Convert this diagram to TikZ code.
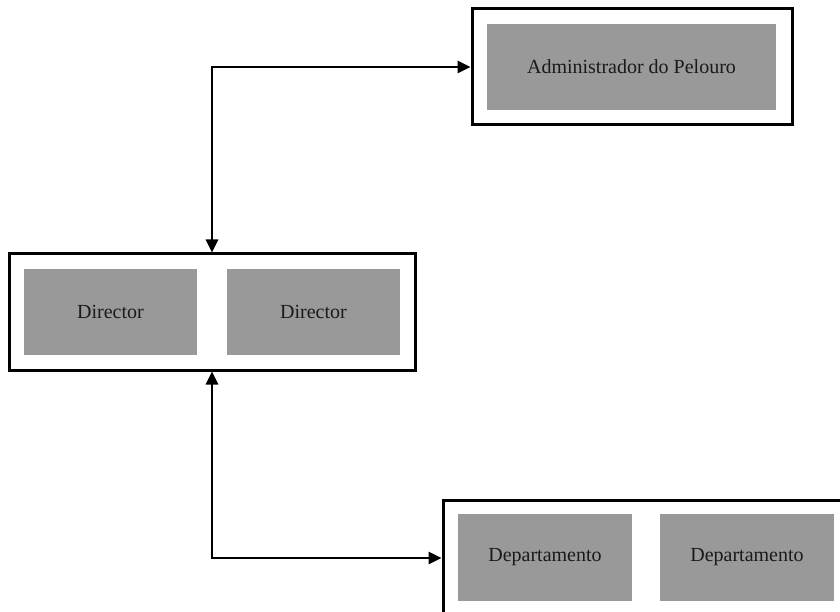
\documentclass[tikz,border=0pt]{standalone}
\usepackage{fontspec}
\setmainfont{Liberation Serif}
\usetikzlibrary{arrows.meta}
\definecolor{boxgray}{HTML}{999999}
\definecolor{inktext}{HTML}{1A1A1A}
\begin{document}
\begin{tikzpicture}[x=1pt,y=-1pt,
  frame/.style={draw=black,line width=3pt,fill=white,minimum width=#1,minimum height=116pt,inner sep=0pt},
  unit/.style={fill=boxgray,text=inktext,minimum width=#1,minimum height=86pt,inner sep=0pt,font=\fontsize{20}{23}\selectfont},
  link/.style={line width=2.6pt,{Triangle[length=13pt,width=12pt]}-{Triangle[length=13pt,width=12pt]}}]
\useasboundingbox (0,0) rectangle (840,612);
\clip (0,0) rectangle (840,612);
% outer frames
\node[frame=320pt] (admin) at (632,67) {};
\node[frame=406pt] (dir) at (212,312) {};
\node[frame=406pt] (dept) at (646,558) {};
% grey units
\node[unit=289pt] (adm) at (631.5,67) {Administrador do Pelouro};
\node[unit=173pt] (dirA) at (110.5,312) {Director};
\node[unit=173pt] (dirB) at (313.5,312) {Director};
\node[unit=174pt,minimum height=87pt] (depA) at (545,557.5) {Departamento};
\node[unit=174pt,minimum height=87pt] (depB) at (747,557.5) {Departamento};
% connectors
\draw[link] (dir.north) |- (admin.west);
\draw[link] (dir.south) |- (dept.west);
\end{tikzpicture}
\end{document}
